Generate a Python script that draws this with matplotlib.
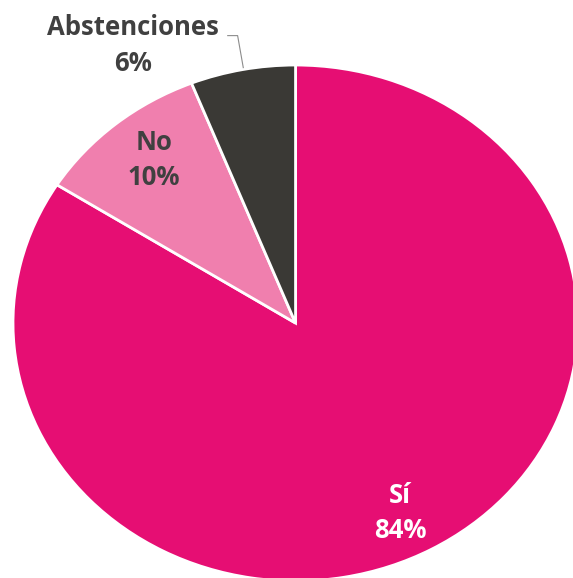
import matplotlib.pyplot as plt

# vote results
labels = ["Sí", "No", "Abstenciones"]
shares = [84, 10, 6]
colors = ["#E60E73", "#F07FAE", "#3A3935"]

fig = plt.figure(figsize=(5.73, 5.78), dpi=100)
ax = fig.add_axes([0, 0, 1, 1])

wedges, _ = ax.pie(shares, colors=colors, startangle=90, counterclock=False,
                   wedgeprops=dict(edgecolor="white", linewidth=2))

# the original is a slightly stretched oval, cut at the right and bottom
ax.set_aspect("auto")
ax.set_xlim(-1.046, 0.982)
ax.set_ylim(-0.988, 1.252)

font = dict(family="Open Sans", fontweight="bold", fontsize=18.5,
            ha="center", va="center", linespacing=1.4)
ax.text(0.37, -0.735, labels[0] + "\n" + str(shares[0]) + "%", color="white", **font)
ax.text(-0.50, 0.632, labels[1] + "\n" + str(shares[1]) + "%", color="#404040", **font)
ax.text(-0.575, 1.075, labels[2] + "\n" + str(shares[2]) + "%", color="#404040", **font)

# leader line for the small slice
ax.plot([-0.24, -0.205, -0.185], [1.114, 1.114, 0.99], color="#8C8C8C", lw=0.8,
        clip_on=False)

fig.savefig("out.png", dpi=100)
